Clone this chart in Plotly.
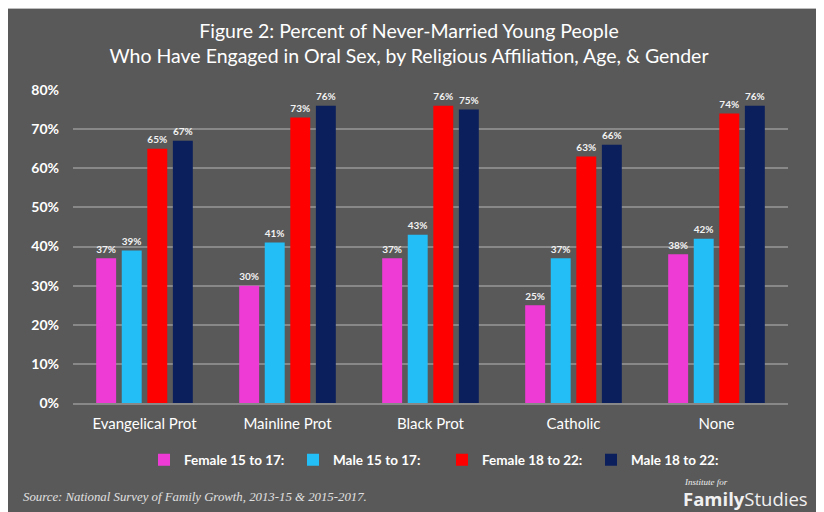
import plotly.graph_objects as go

categories = ["Evangelical Prot", "Mainline Prot", "Black Prot", "Catholic", "None"]
series_names = ["Female 15 to 17:", "Male 15 to 17:", "Female 18 to 22:", "Male 18 to 22:"]
female_15_17 = [37, 30, 37, 25, 38]
male_15_17 = [39, 41, 43, 37, 42]
female_18_22 = [65, 73, 76, 63, 74]
male_18_22 = [67, 76, 75, 66, 76]
y_tick_vals = [0, 10, 20, 30, 40, 50, 60, 70, 80]
y_tick_text = ["0%", "10%", "20%", "30%", "40%", "50%", "60%", "70%", "80%"]

colors = ["#EF3BD6", "#22BEF5", "#FF0000", "#0B1F5C"]
series_values = [female_15_17, male_15_17, female_18_22, male_18_22]

BG = "#595959"
FONT = "Lato, 'Open Sans', sans-serif"

fig = go.Figure()
for name, vals, col in zip(series_names, series_values, colors):
    fig.add_trace(go.Bar(
        x=categories, y=vals, name=name,
        marker=dict(color=col, line=dict(width=0)),
        text=[f"{v}%" for v in vals],
        textposition="outside",
        textfont=dict(color="#F2F2F2", size=12, family=FONT, weight="bold"),
        cliponaxis=False,
    ))

# figure is placed by the page with an 8px body margin (white strip top/left)
W, H = 816, 504
L, R, T, B = 65, 36, 82, 109
pw = W - L - R
ph = H - T - B

def px_x(px):
    return (px - L) / pw

def px_y(py):
    return (H - B - py) / ph

fig.update_layout(
    width=W, height=H,
    margin=dict(l=L, r=R, t=T, b=B, autoexpand=False),
    paper_bgcolor=BG, plot_bgcolor=BG,
    barmode="group", bargap=0.285, bargroupgap=0.22,
    font=dict(family=FONT, color="#FFFFFF"),
    title=dict(
        text="Figure 2: Percent of Never-Married Young People<br>Who Have Engaged in Oral Sex, by Religious Affiliation, Age, & Gender",
        x=401 / W, xanchor="center", xref="container",
        y=1 - 30 / H, yanchor="middle", yref="container",
        font=dict(size=19.5, color="#FFFFFF", family=FONT),
    ),
    xaxis=dict(
        showgrid=False, showline=True, linecolor="#888888", linewidth=1.5,
        ticks="", tickfont=dict(size=15, color="#FFFFFF", family=FONT),
        ticklabelstandoff=6,
    ),
    yaxis=dict(
        range=[0, 80], tickvals=y_tick_vals, ticktext=y_tick_text,
        showgrid=True, gridcolor="#888888", gridwidth=1.5,
        zeroline=False, showline=False, ticks="",
        tickfont=dict(size=14, color="#FFFFFF", family=FONT, weight="bold"),
        ticklabelstandoff=13,
    ),
    legend=dict(
        orientation="h", x=px_x(136), xanchor="left", y=px_y(452), yanchor="middle",
        font=dict(size=13.5, color="#FFFFFF", family=FONT, weight="bold"),
        bgcolor="rgba(0,0,0,0)", itemwidth=30,
        entrywidth=104, entrywidthmode="pixels", tracegroupgap=0,
    ),
    showlegend=True,
    annotations=[
        dict(text="<i>Source: National Survey of Family Growth, 2013-15 &amp; 2015-2017.</i>",
             xref="paper", yref="paper", x=px_x(13), y=px_y(489), xanchor="left", yanchor="middle",
             showarrow=False, font=dict(family="'Liberation Serif', 'DejaVu Serif', serif", size=12.8, color="#E0E0E0")),
        dict(text="<i>Institute for</i>",
             xref="paper", yref="paper", x=px_x(674), y=px_y(474), xanchor="left", yanchor="middle",
             showarrow=False, font=dict(family="'Liberation Serif', serif", size=9, color="#F0F0F0")),
        dict(text="<b>Family</b>Studies",
             xref="paper", yref="paper", x=px_x(673), y=px_y(490), xanchor="left", yanchor="middle",
             showarrow=False, font=dict(family="'Open Sans', sans-serif", size=18.5, color="#F0F0F0")),
    ],
    shapes=[
        dict(type="line", xref="paper", yref="paper", x0=px_x(0), x1=px_x(W), y0=px_y(0.5), y1=px_y(0.5),
             line=dict(color="#BDBDBD", width=1), layer="above"),
    ],
)

fig.write_html("out.html")
